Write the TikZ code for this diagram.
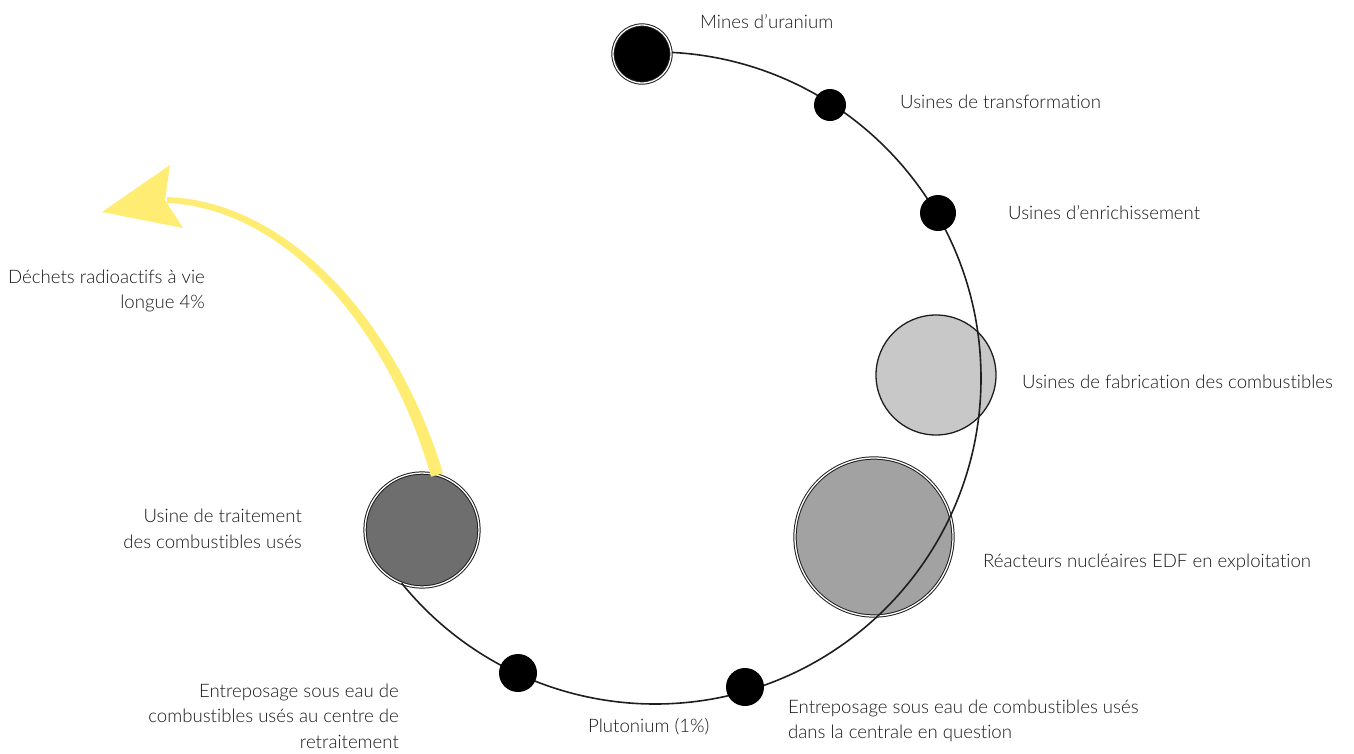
\documentclass[tikz,border=0pt]{standalone}
\usepackage{fontspec}
\setmainfont{Lato Light}[Ligatures=NoCommon]
\usetikzlibrary{calc}
\definecolor{ringdark}{RGB}{30,30,30}
\definecolor{fabgrey}{RGB}{200,200,200}
\definecolor{reagrey}{RGB}{162,162,162}
\definecolor{tragrey}{RGB}{110,110,110}
\definecolor{wasteyellow}{RGB}{255,237,115}
\begin{document}
\begin{tikzpicture}[x=1pt,y=-1pt,
  lbl/.style={inner sep=0pt, font=\fontsize{18.6}{25.5}\selectfont, text=black!90},
  dot/.style={circle, fill=black, inner sep=0pt, minimum size=#1},
  bigdisc/.style={circle, inner sep=0pt, minimum size=#1, draw=ringdark, line width=1pt, double=white, double distance=1.3pt},
  cycleline/.style={draw=ringdark, line width=1.6pt}
]
\useasboundingbox (0,0) rectangle (1354,753);
\coordinate (ctr) at (655,378);

% grey installations (under the cycle line)
\node[circle, inner sep=0pt, minimum size=120, fill=fabgrey, draw=ringdark, line width=1.3pt] (fab) at (936,375) {};
\node[bigdisc=158, fill=reagrey] (rea) at (874,537) {};
\node[bigdisc=114, fill=tragrey] (tra) at (422,530) {};

% cycle line
\coordinate (start) at ($(ctr)+(92:326 and -326)$);
\draw[cycleline] (start) arc[start angle=92, end angle=-141, x radius=326, y radius=-326];

% black installations
\node[bigdisc=58, fill=black] (mines) at (642,54) {};
\node[dot=32] (transf) at (830,105) {};
\node[dot=36] (enri) at (938,213) {};
\node[dot=38] (stockC) at (745,687) {};
\node[dot=38] (stockR) at (518,673) {};

% yellow waste arrow
\fill[wasteyellow] (431,476.7) .. controls (390.6,332.4) and (288,208.5) .. (167,203)
  -- (167,197) .. controls (292,201.5) and (399.4,327.6) .. (443,473.3) -- cycle;
\fill[wasteyellow] (102,212) -- (170,165) -- (165,200) -- (183,228) -- cycle;
\coordinate (wastetip) at (102,212);

% labels
\node[lbl, anchor=west] (lmines) at (700,22) {Mines d’uranium};
\node[lbl, anchor=west] (ltransf) at (900,102) {Usines de transformation};
\node[lbl, anchor=west] (lenri) at (1008,213) {Usines d’enrichissement};
\node[lbl, anchor=west] (lfab) at (1022,382) {Usines de fabrication des combustibles};
\node[lbl, anchor=west] (lrea) at (983,562) {Réacteurs nucléaires EDF en exploitation};
\node[lbl, anchor=west, align=left] (lstockC) at (788,721) {Entreposage sous eau de combustibles usés\\dans la centrale en question};
\node[lbl, anchor=west] (lplu) at (588,727) {Plutonium (1\%)};
\node[lbl, anchor=east, align=right] (lstockR) at (399,716) {Entreposage sous eau de\\combustibles usés au centre de\\retraitement};
\node[lbl, anchor=east, align=right] (ltra) at (302,529) {Usine de traitement\\des combustibles usés};
\node[lbl, anchor=east, align=right] (lwaste) at (205,291) {Déchets radioactifs à vie\\longue 4\%};
\end{tikzpicture}
\end{document}
